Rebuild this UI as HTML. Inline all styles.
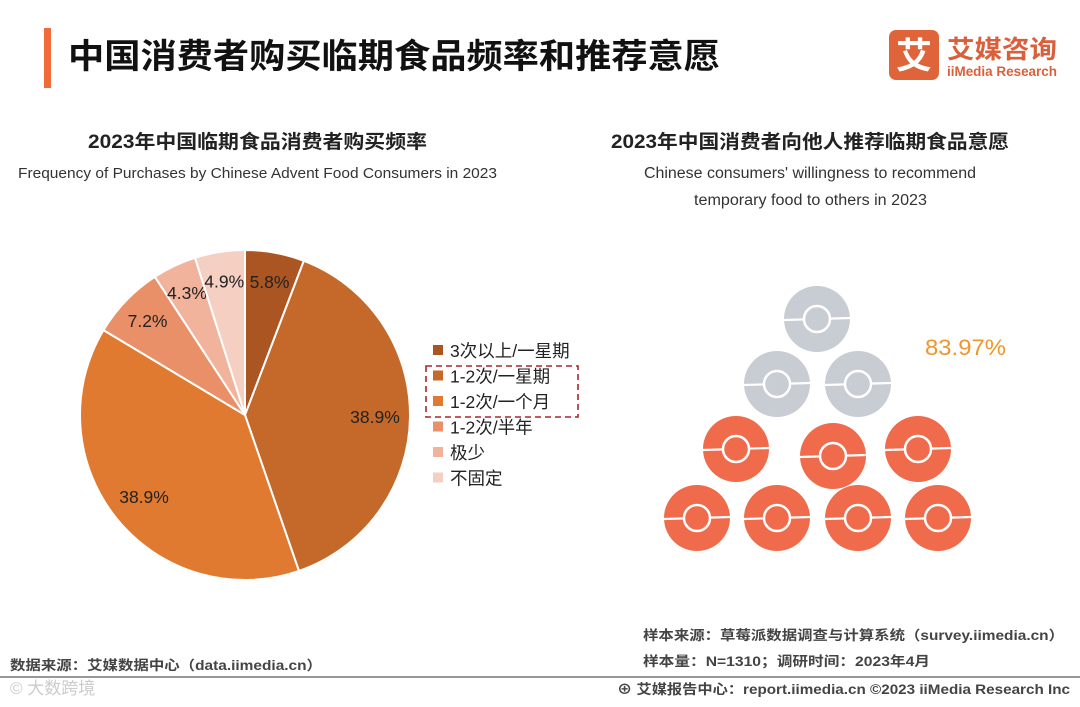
<!DOCTYPE html>
<html><head><meta charset="utf-8">
<style>
html,body{margin:0;padding:0;background:#fff;}
body{width:1080px;height:702px;overflow:hidden;font-family:"Liberation Sans","Noto Sans CJK SC",sans-serif;}
svg text{font-family:"Liberation Sans","Noto Sans CJK SC",sans-serif;}
</style></head>
<body>
<svg id="chart" width="1080" height="702" viewBox="0 0 1080 702">
  <rect x="44" y="28" width="7" height="60" fill="#f26a3a"/>
  <text x="68" y="68" font-size="34" font-weight="bold" fill="#111" textLength="652" lengthAdjust="spacingAndGlyphs">中国消费者购买临期食品频率和推荐意愿</text>
  <g>
    <rect x="889" y="30" width="50" height="50" rx="7" fill="#e0643a"/>
    <text x="914" y="68" font-size="36" font-weight="bold" fill="#fff" text-anchor="middle">艾</text>
    <text x="947" y="58" font-size="25" font-weight="bold" fill="#d9603a" textLength="110" lengthAdjust="spacingAndGlyphs">艾媒咨询</text>
    <text x="947" y="76" font-size="13.5" font-weight="bold" fill="#d9603a" textLength="110" lengthAdjust="spacingAndGlyphs">iiMedia Research</text>
  </g>
  <text x="88" y="148" font-size="19" font-weight="bold" fill="#222" textLength="339" lengthAdjust="spacingAndGlyphs">2023年中国临期食品消费者购买频率</text>
  <text x="18" y="178" font-size="15" fill="#333" textLength="479" lengthAdjust="spacingAndGlyphs">Frequency of Purchases by Chinese Advent Food Consumers in 2023</text>
  <text x="611" y="148" font-size="19" font-weight="bold" fill="#222" textLength="398" lengthAdjust="spacingAndGlyphs">2023年中国消费者向他人推荐临期食品意愿</text>
  <text x="644" y="178" font-size="15.5" fill="#333" textLength="332" lengthAdjust="spacingAndGlyphs">Chinese consumers' willingness to recommend</text>
  <text x="694" y="205" font-size="15.5" fill="#333" textLength="233" lengthAdjust="spacingAndGlyphs">temporary food to others in 2023</text>
  <g id="pie"></g>
  <g id="legend"></g>
  <rect x="426" y="366" width="152" height="51" fill="none" stroke="#a8262a" stroke-width="1.6" stroke-dasharray="6,4"/>
  <g id="balls"></g>
  <text id="pct" x="925" y="355" font-size="22" fill="#f0952a" textLength="81" lengthAdjust="spacingAndGlyphs"></text>
  <text x="10" y="670" font-size="13.5" font-weight="bold" fill="#444" textLength="312" lengthAdjust="spacingAndGlyphs">数据来源：艾媒数据中心（data.iimedia.cn）</text>
  <text x="643" y="640" font-size="13.5" font-weight="bold" fill="#444" textLength="421" lengthAdjust="spacingAndGlyphs">样本来源：草莓派数据调查与计算系统（survey.iimedia.cn）</text>
  <text x="643" y="666" font-size="13.5" font-weight="bold" fill="#444" textLength="287" lengthAdjust="spacingAndGlyphs">样本量：N=1310；调研时间：2023年4月</text>
  <line x1="0" y1="677" x2="1080" y2="677" stroke="#777" stroke-width="1.5"/>
  <text x="10" y="694" font-size="17" fill="#ccc">© 大数跨境</text>
  <text x="617" y="694" font-size="13.5" font-weight="bold" fill="#444" textLength="453" lengthAdjust="spacingAndGlyphs">⊕ 艾媒报告中心：report.iimedia.cn   ©2023  iiMedia Research  Inc</text>
</svg>
<script>
const categories = ["3次以上/一星期","1-2次/一星期","1-2次/一个月","1-2次/半年","极少","不固定"];
const shares = [5.8, 38.9, 38.9, 7.2, 4.3, 4.9];
const labels = ["5.8%","38.9%","38.9%","7.2%","4.3%","4.9%"];
const colors = ["#ab5522","#c4692a","#e07a31","#ea9068","#f1b39c","#f6cfc3"];
const recommendRate = 83.97;
const recommendLabel = "83.97%";
const iconTotal = 10;

const NS="http://www.w3.org/2000/svg";
function mk(t,a){const e=document.createElementNS(NS,t);for(const k in a)e.setAttribute(k,a[k]);return e;}
const cx=245, cy=415, R=165;
const total=shares.reduce((a,b)=>a+b,0);
function pt(frac,r){const a=frac*2*Math.PI;return [cx+r*Math.sin(a), cy-r*Math.cos(a)];}
const pie=document.getElementById('pie');
let acc=0;
shares.forEach((v,i)=>{
  const f0=acc/total, f1=(acc+v)/total; acc+=v;
  const [x0,y0]=pt(f0,R),[x1,y1]=pt(f1,R);
  const large=(f1-f0)>0.5?1:0;
  const p=mk('path',{d:`M${cx},${cy}L${x0},${y0}A${R},${R} 0 ${large} 1 ${x1},${y1}Z`,fill:colors[i],stroke:'#fff','stroke-width':2});
  
  
  pie.appendChild(p);
  const fm=(f0+f1)/2;
  const d = (f1-f0)>0.2 ? 130 : 0.82*R;
  const [lx,ly]=pt(fm,d);
  const t=mk('text',{x:lx,y:ly+6,'font-size':17.5,fill:'#222','text-anchor':'middle'});
  t.textContent=labels[i];
  
  
  pie.appendChild(t);
});
const lg=document.getElementById('legend');
categories.forEach((c,i)=>{
  const y=351+i*25.5;
  const r=mk('rect',{x:433,y:y-6,width:10,height:10,fill:colors[i]});
  
  
  lg.appendChild(r);
  const t=mk('text',{x:450,y:y+6,'font-size':17.5,fill:'#222'});
  t.textContent=c;
  
  
  lg.appendChild(t);
});
const centers=[[817,319],[777,384],[858,384],[736,449],[833,456],[918,449],[697,518],[777,518],[858,518],[938,518]];
const nFilled=Math.floor(recommendRate/100*iconTotal)-1;
const balls=document.getElementById('balls');
centers.forEach(([x,y],i)=>{
  const on = i >= iconTotal - nFilled;
  const g=mk('g',{});
  
  
  g.appendChild(mk('circle',{cx:x,cy:y,r:33,fill:on?'#ef6b4b':'#c8ccd3'}));
  g.appendChild(mk('line',{x1:x-33,y1:y+1,x2:x+33,y2:y-1,stroke:'#fff','stroke-width':2.2}));
  g.appendChild(mk('circle',{cx:x,cy:y,r:13,fill:on?'#ef6b4b':'#c8ccd3',stroke:'#fff','stroke-width':2.5}));
  balls.appendChild(g);
});
document.getElementById('pct').textContent=recommendLabel;
</script>
</body></html>
